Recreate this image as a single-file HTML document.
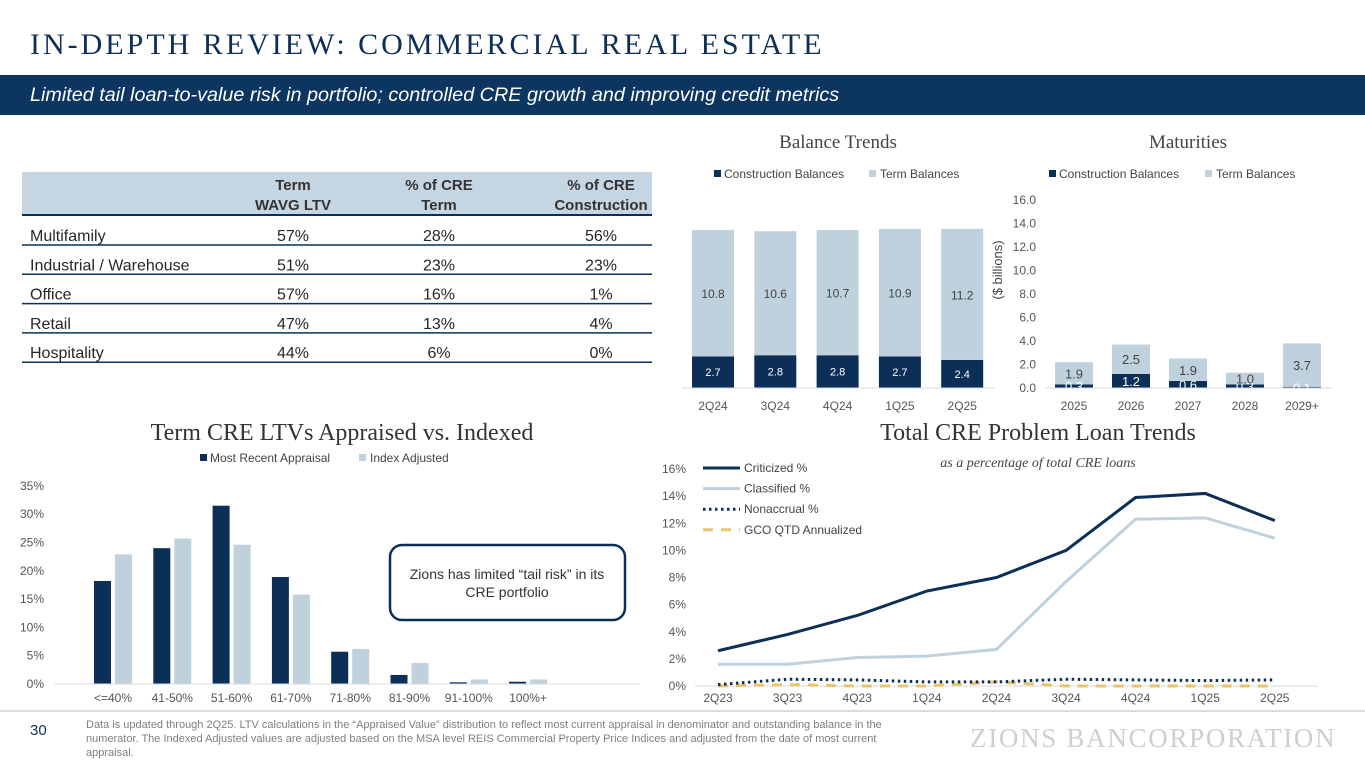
<!DOCTYPE html>
<html><head><meta charset="utf-8">
<style>
*{margin:0;padding:0;box-sizing:border-box}
body{width:1365px;height:768px;overflow:hidden;background:#fff;font-family:"Liberation Sans",sans-serif;position:relative}
.abs{position:absolute}
</style></head>
<body>
<div class="abs" style="left:30px;top:28px;font-family:'Liberation Serif',serif;font-size:30px;color:#0c2f57;letter-spacing:3px;white-space:nowrap">IN-DEPTH REVIEW: COMMERCIAL REAL ESTATE</div>
<div class="abs" style="left:0;top:75px;width:1365px;height:40px;background:#0c3560;color:#fff;font-style:italic;font-size:19.8px;padding:9px 0 0 30px;white-space:nowrap">Limited tail loan-to-value risk in portfolio; controlled CRE growth and improving credit metrics</div>

<svg class="abs" style="left:0;top:0" width="1365" height="768">
<g font-size="16" fill="#262626">
<rect x="22" y="172" width="630" height="43" fill="#c6d5e2"/>
<line x1="22" y1="215" x2="652" y2="215" stroke="#0c2f57" stroke-width="2"/>
<g font-weight="bold" font-size="15" fill="#333" text-anchor="middle">
<text x="293" y="190">Term</text><text x="293" y="210">WAVG LTV</text>
<text x="439" y="190">% of CRE</text><text x="439" y="210">Term</text>
<text x="601" y="190">% of CRE</text><text x="601" y="210">Construction</text>
</g>
<g id="rows"></g>
</g>

<g>
<text x="838" y="148" text-anchor="middle" font-family="Liberation Serif,serif" font-size="19" fill="#444">Balance Trends</text>
<rect x="714" y="170" width="7" height="7" fill="#0c2f57"/><text x="724" y="178" font-size="12" fill="#444">Construction Balances</text>
<rect x="869" y="170" width="7" height="7" fill="#c0d1de"/><text x="880" y="178" font-size="12" fill="#444">Term Balances</text>
<g id="bt"></g>
</g>

<g>
<text x="1188" y="148" text-anchor="middle" font-family="Liberation Serif,serif" font-size="19" fill="#444">Maturities</text>
<rect x="1049" y="170" width="7" height="7" fill="#0c2f57"/><text x="1059" y="178" font-size="12" fill="#444">Construction Balances</text>
<rect x="1205" y="170" width="7" height="7" fill="#c0d1de"/><text x="1216" y="178" font-size="12" fill="#444">Term Balances</text>
<text transform="translate(1002,270) rotate(-90)" text-anchor="middle" font-size="13" fill="#444">($ billions)</text>
<g id="mt"></g>
</g>

<g>
<text x="342" y="440" text-anchor="middle" font-family="Liberation Serif,serif" font-size="24" fill="#333">Term CRE LTVs Appraised vs. Indexed</text>
<rect x="200" y="454" width="7" height="7" fill="#0c2f57"/><text x="210" y="462" font-size="12" fill="#444">Most Recent Appraisal</text>
<rect x="359" y="454" width="7" height="7" fill="#c0d1de"/><text x="370" y="462" font-size="12" fill="#444">Index Adjusted</text>
<g id="lt"></g>
<rect x="390" y="545" width="235" height="75" rx="12" fill="#fff" stroke="#0c2f57" stroke-width="2.5"/>
<text x="507" y="579" text-anchor="middle" font-size="14" fill="#333">Zions has limited “tail risk” in its</text>
<text x="507" y="597" text-anchor="middle" font-size="14" fill="#333">CRE portfolio</text>
</g>

<g>
<text x="1038" y="440" text-anchor="middle" font-family="Liberation Serif,serif" font-size="24" fill="#333">Total CRE Problem Loan Trends</text>
<text x="1038" y="467" text-anchor="middle" font-family="Liberation Serif,serif" font-style="italic" font-size="14" fill="#444">as a percentage of total CRE loans</text>
<g id="pl"></g>
</g>

<line x1="0" y1="711" x2="1365" y2="711" stroke="#d0d0d0" stroke-width="1.5"/>
<text x="30" y="735" font-size="15" fill="#0c2f57">30</text>
<text x="970" y="747" font-family="Liberation Serif,serif" font-size="27" fill="#cfcfcf" letter-spacing="1.7">ZIONS BANCORPORATION</text>
</svg>

<div class="abs" style="left:86px;top:718px;width:835px;font-size:11px;line-height:14px;color:#7f7f7f">Data is updated through 2Q25. LTV calculations in the “Appraised Value” distribution to reflect most current appraisal in denominator and outstanding balance in the numerator. The Indexed Adjusted values are adjusted based on the MSA level REIS Commercial Property Price Indices and adjusted from the date of most current appraisal.</div>

<script>
const tableRows=["Multifamily","Industrial / Warehouse","Office","Retail","Hospitality"];
const tableLTV=["57%","51%","57%","47%","44%"];
const tableTerm=["28%","23%","16%","13%","6%"];
const tableCons=["56%","23%","1%","4%","0%"];

const btCats=["2Q24","3Q24","4Q24","1Q25","2Q25"];
const btCons=[2.7,2.8,2.8,2.7,2.4];
const btTerm=[10.8,10.6,10.7,10.9,11.2];

const mtCats=["2025","2026","2027","2028","2029+"];
const mtCons=[0.3,1.2,0.6,0.3,0.1];
const mtTerm=[1.9,2.5,1.9,1.0,3.7];
const mtTicks=[0,2,4,6,8,10,12,14,16];

const ltCats=["<=40%","41-50%","51-60%","61-70%","71-80%","81-90%","91-100%","100%+"];
const ltRecent=[18.2,24.0,31.5,18.9,5.7,1.6,0.3,0.4];
const ltIndex=[22.9,25.7,24.6,15.8,6.2,3.7,0.8,0.8];
const ltTicks=[0,5,10,15,20,25,30,35];

const plCats=["2Q23","3Q23","4Q23","1Q24","2Q24","3Q24","4Q24","1Q25","2Q25"];
const plCrit=[2.6,3.8,5.2,7.0,8.0,10.0,13.9,14.2,12.2];
const plClass=[1.6,1.6,2.1,2.2,2.7,7.7,12.3,12.4,10.9];
const plNon=[0.1,0.5,0.45,0.3,0.3,0.5,0.45,0.4,0.45];
const plGco=[0.0,0.1,0.0,0.0,0.3,0.0,0.0,0.0,0.0];
const plTicks=[0,2,4,6,8,10,12,14,16];

const NS="http://www.w3.org/2000/svg";
function mk(p,tag,at,txt){const e=document.createElementNS(NS,tag);for(const k in at)e.setAttribute(k,at[k]);if(txt!==undefined)e.textContent=txt;p.appendChild(e);return e;}

const rows=document.getElementById('rows');
tableRows.forEach((r,i)=>{
  const yb=245+i*29.3;
  const g=mk(rows,'g',{});
  
  
  mk(g,'text',{x:30,y:yb-4,'font-size':16,fill:'#262626'},r);
  mk(g,'text',{x:293,y:yb-4,'text-anchor':'middle','font-size':16,fill:'#262626'},tableLTV[i]);
  mk(g,'text',{x:439,y:yb-4,'text-anchor':'middle','font-size':16,fill:'#262626'},tableTerm[i]);
  mk(g,'text',{x:601,y:yb-4,'text-anchor':'middle','font-size':16,fill:'#262626'},tableCons[i]);
  mk(g,'line',{x1:22,x2:652,y1:yb,y2:yb,stroke:'#0c2f57','stroke-width':1.5});
});

(function(){
  const g=document.getElementById('bt');
  const base=388,sc=11.7,x0=713,dx=62.3,w=42;
  const y=v=>base-v*sc;
  btCats.forEach((c,i)=>{
    const cx=x0+i*dx;
    const b1=mk(g,'rect',{x:cx-w/2,y:y(btCons[i]),width:w,height:btCons[i]*sc,fill:'#0c2f57'});
    
    
    const b2=mk(g,'rect',{x:cx-w/2,y:y(btCons[i]+btTerm[i]),width:w,height:btTerm[i]*sc,fill:'#c0d1de'});
    
    
    mk(g,'text',{x:cx,y:y(btCons[i]/2)+4,'text-anchor':'middle','font-size':11,fill:'#fff'},btCons[i].toFixed(1));
    mk(g,'text',{x:cx,y:y(btCons[i]+btTerm[i]/2)+5,'text-anchor':'middle','font-size':12,fill:'#444'},btTerm[i].toFixed(1));
    mk(g,'text',{x:cx,y:410,'text-anchor':'middle','font-size':12,fill:'#555'},c);
  });
  mk(g,'line',{x1:682,x2:995,y1:base,y2:base,stroke:'#d9d9d9'});
})();

(function(){
  const g=document.getElementById('mt');
  const base=388,sc=11.75,x0=1074,dx=57,w=38;
  const y=v=>base-v*sc;
  mtTicks.forEach(t=>mk(g,'text',{x:1036,y:y(t)+4,'text-anchor':'end','font-size':12,fill:'#555'},t.toFixed(1)));
  mtCats.forEach((c,i)=>{
    const cx=x0+i*dx;
    const b1=mk(g,'rect',{x:cx-w/2,y:y(mtCons[i]),width:w,height:mtCons[i]*sc,fill:'#0c2f57'});
    
    
    const b2=mk(g,'rect',{x:cx-w/2,y:y(mtCons[i]+mtTerm[i]),width:w,height:mtTerm[i]*sc,fill:'#c0d1de'});
    
    
    mk(g,'text',{x:cx,y:y(mtCons[i]/2)+5,'text-anchor':'middle','font-size':13,fill:'#fff'},mtCons[i].toFixed(1));
    mk(g,'text',{x:cx,y:y(mtCons[i]+mtTerm[i]/2)+5,'text-anchor':'middle','font-size':13,fill:'#444'},mtTerm[i].toFixed(1));
    mk(g,'text',{x:cx,y:410,'text-anchor':'middle','font-size':12,fill:'#555'},c);
  });
  mk(g,'line',{x1:1045,x2:1332,y1:base,y2:base,stroke:'#d9d9d9'});
})();

(function(){
  const g=document.getElementById('lt');
  const base=684,sc=5.66,x0=113,dx=59.3,w=17;
  const y=v=>base-v*sc;
  ltTicks.forEach(t=>mk(g,'text',{x:44,y:y(t)+4,'text-anchor':'end','font-size':12,fill:'#555'},t+'%'));
  ltCats.forEach((c,i)=>{
    const cx=x0+i*dx;
    const b1=mk(g,'rect',{x:cx-w-2,y:y(ltRecent[i]),width:w,height:ltRecent[i]*sc,fill:'#0c2f57'});
    
    
    const b2=mk(g,'rect',{x:cx+2,y:y(ltIndex[i]),width:w,height:ltIndex[i]*sc,fill:'#c0d1de'});
    
    
    mk(g,'text',{x:cx,y:702,'text-anchor':'middle','font-size':12,fill:'#555'},c);
  });
  mk(g,'line',{x1:55,x2:640,y1:base,y2:base,stroke:'#d9d9d9'});
})();

(function(){
  const g=document.getElementById('pl');
  const base=686,sc=13.56,x0=718,dx=69.6;
  const y=v=>base-v*sc, x=i=>x0+i*dx;
  plTicks.forEach(t=>mk(g,'text',{x:686,y:y(t)+4,'text-anchor':'end','font-size':12,fill:'#555'},t+'%'));
  plCats.forEach((c,i)=>mk(g,'text',{x:x(i),y:702,'text-anchor':'middle','font-size':12,fill:'#555'},c));
  mk(g,'line',{x1:695,x2:1318,y1:base,y2:base,stroke:'#d9d9d9'});
  const series=[
    [plGco,{stroke:'#e9c46a','stroke-width':3,'stroke-dasharray':'10 8',fill:'none'},'line-gco'],
    [plNon,{stroke:'#0c2f57','stroke-width':3,'stroke-dasharray':'2.5 3.5',fill:'none'},'line-nonaccrual'],
    [plClass,{stroke:'#c0d1de','stroke-width':3,fill:'none'},'line-classified'],
    [plCrit,{stroke:'#0c2f57','stroke-width':3,fill:'none'},'line-criticized']
  ];
  series.forEach(([d,st,nm])=>{
    st.points=d.map((v,i)=>x(i)+','+y(v)).join(' ');
    const p=mk(g,'polyline',st);
    
    
  });
  const leg=[["Criticized %",{stroke:'#0c2f57'}],["Classified %",{stroke:'#c0d1de'}],["Nonaccrual %",{stroke:'#0c2f57','stroke-dasharray':'2.5 3.5'}],["GCO QTD Annualized",{stroke:'#e9c46a','stroke-dasharray':'10 8'}]];
  leg.forEach(([t,st],i)=>{
    const yy=468+i*20.6;
    const a=Object.assign({x1:703,x2:740,y1:yy,y2:yy,'stroke-width':3},st);
    const l=mk(g,'line',a);
    
    
    mk(g,'text',{x:744,y:yy+4,'font-size':12,fill:'#444'},t);
  });
})();
</script>
</body></html>
